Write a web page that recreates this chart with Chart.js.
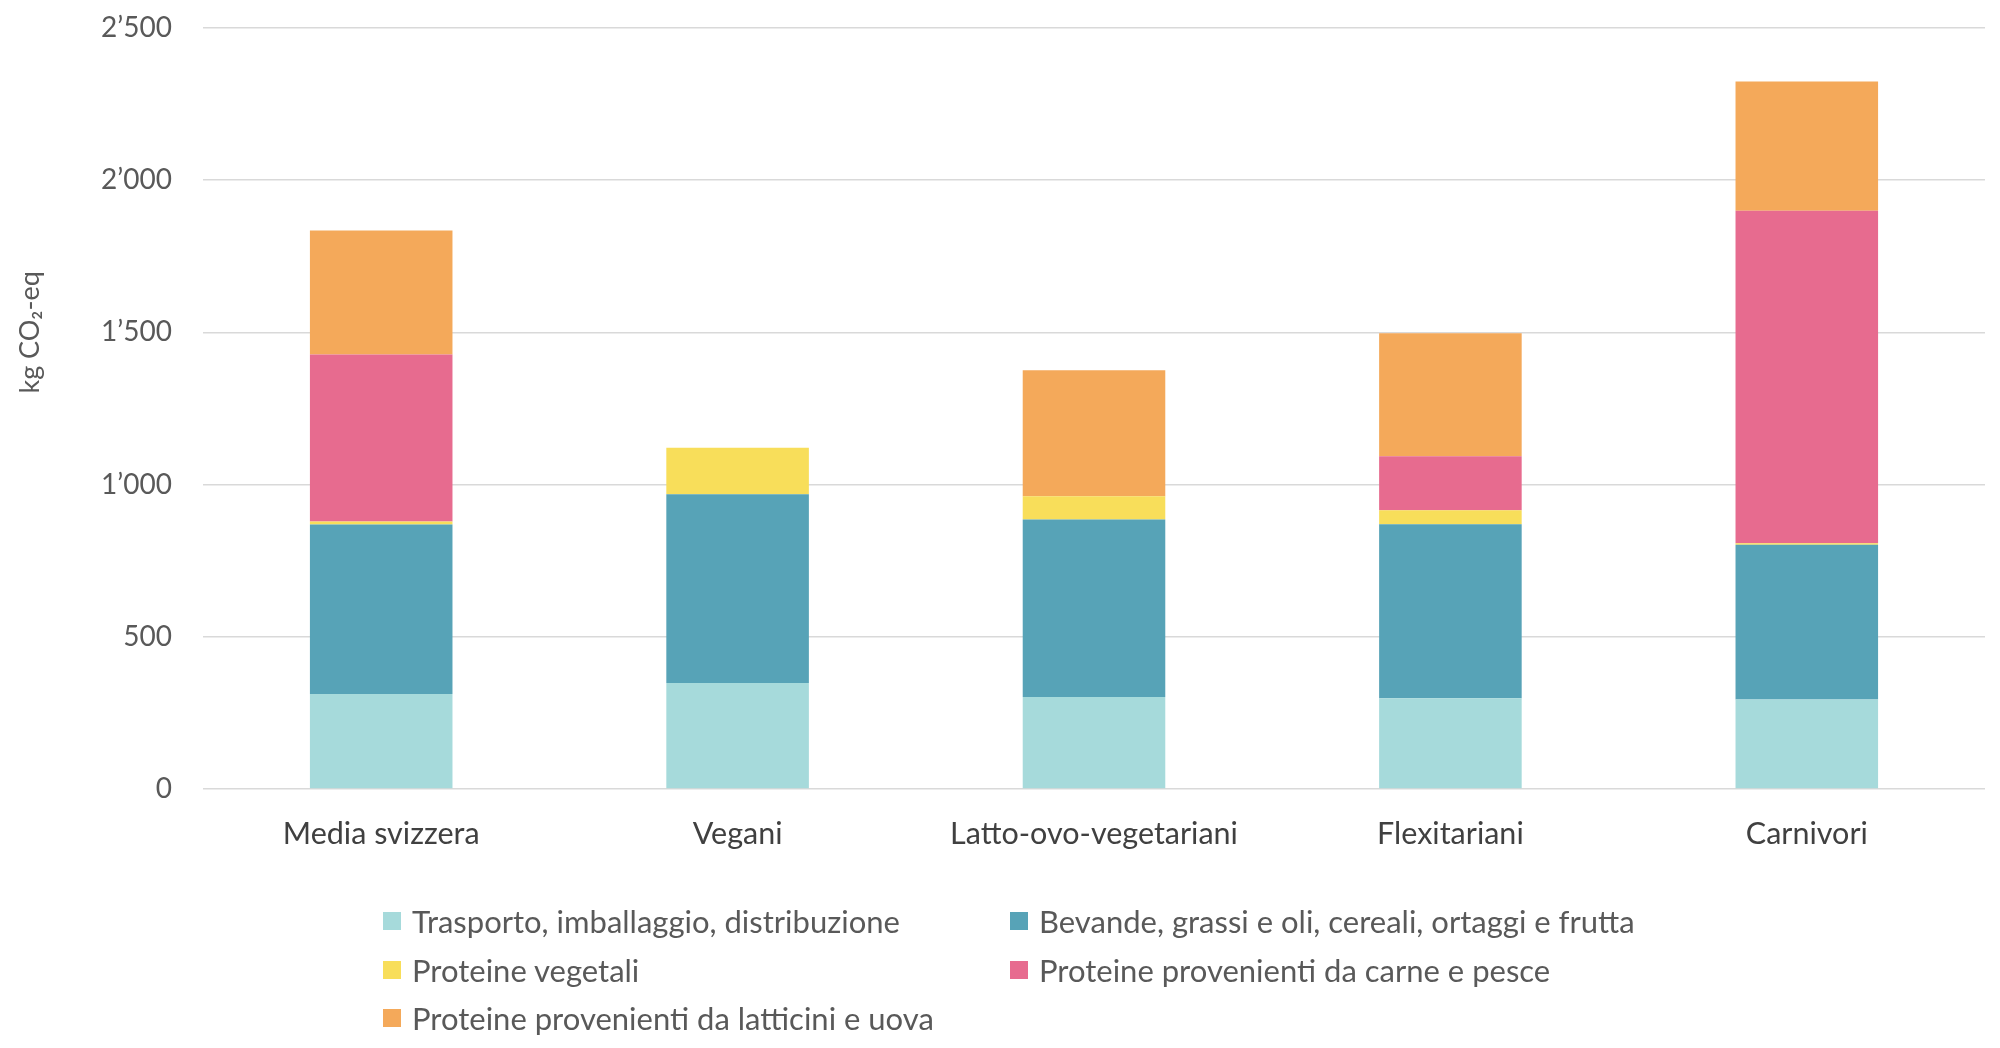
<!DOCTYPE html>
<html lang="it">
<head>
<meta charset="utf-8">
<title>Emissioni per tipo di dieta</title>
<script src="https://cdn.jsdelivr.net/npm/chart.js@4/dist/chart.umd.min.js"></script>
<style>
  html, body { margin: 0; padding: 0; background: #fff; }
  #wrap { position: relative; width: 2000px; height: 1048px; }
  #legend {
    position: absolute; left: 383px; top: 897px;
    display: grid; grid-template-columns: 627px auto; row-gap: 0;
    font-family: Lato, "Noto Sans", sans-serif; font-size: 31px; color: #595959;
  }
  .item { display: flex; align-items: center; height: 48.5px; white-space: nowrap; }
  .box { width: 18px; height: 18px; margin-right: 11px; flex: none; }
</style>
</head>
<body>
<div id="wrap">
  <canvas id="chart" width="2000" height="1048"></canvas>
  <div id="legend"></div>
</div>
<script>
// categorie (asse x)
const categorie = ['Media svizzera', 'Vegani', 'Latto-ovo-vegetariani', 'Flexitariani', 'Carnivori'];

// valori, kg CO2-eq
const trasporto = [312, 348, 302, 298, 294];
const bevande = [557, 620, 583, 572, 508];
const proteineVegetali = [10, 153, 77, 46, 5];
const carnePesce = [548, 0, 0, 177, 1093];
const latticiniUova = [408, 0, 414, 404, 424];

const nomiSerie = [
    'Trasporto, imballaggio, distribuzione',
    'Bevande, grassi e oli, cereali, ortaggi e frutta',
    'Proteine vegetali',
    'Proteine provenienti da carne e pesce',
    'Proteine provenienti da latticini e uova'
];
const colori = ['#a6dadb', '#57a3b7', '#f8de5a', '#e76b8f', '#f4a95a'];

const yTicks = [0, 500, 1000, 1500, 2000, 2500];

const FONT = 'Lato, "Noto Sans", sans-serif';

// separatore delle migliaia con apostrofo
function formatNumero(v) {
    return String(v).replace(/\B(?=(\d{3})+(?!\d))/g, '\u2019');
}

// titolo dell'asse y, un po' sopra il centro come nell'originale
const titoloY = {
    id: 'titoloY',
    afterDraw(chart) {
        const ctx = chart.ctx;
        const y = chart.scales.y.getPixelForValue(1500);
        ctx.save();
        ctx.translate(30, y);
        ctx.rotate(-Math.PI / 2);
        ctx.font = '27px ' + FONT;
        ctx.fillStyle = '#595959';
        ctx.textAlign = 'center';
        ctx.textBaseline = 'middle';
        ctx.fillText('kg CO\u2082-eq', 0, 0);
        ctx.restore();
    }
};

const serie = [trasporto, bevande, proteineVegetali, carnePesce, latticiniUova];

const chart = new Chart(document.getElementById('chart'), {
    type: 'bar',
    data: {
        labels: categorie,
        datasets: serie.map((d, i) => ({
            label: nomiSerie[i],
            data: d,
            backgroundColor: colori[i],
            borderWidth: 0,
            barPercentage: 0.4,
            categoryPercentage: 1
        }))
    },
    options: {
        responsive: false,
        animation: false,
        layout: { padding: { top: 28, bottom: 189, left: 0, right: 15 } },
        plugins: {
            legend: { display: false },
            tooltip: { enabled: false }
        },
        scales: {
            x: {
                stacked: true,
                grid: { display: false },
                border: { display: false },
                ticks: { color: '#404040', font: { family: FONT, size: 30.5 }, padding: 19 },
                afterFit: (s) => { s.height = 70; }
            },
            y: {
                stacked: true,
                min: 0,
                max: 2500,
                afterBuildTicks: (s) => { s.ticks = yTicks.map(v => ({ value: v })); },
                grid: { color: '#d9d9d9', lineWidth: 1.5, drawTicks: false },
                border: { display: false },
                ticks: {
                    color: '#595959',
                    font: { family: FONT, size: 28 },
                    padding: 31,
                    callback: (v) => formatNumero(v)
                },
                afterFit: (s) => {
                    s.width = 203;
                    // il padding delle etichette non deve spostare l'area del grafico
                    s.paddingTop = 0;
                    s.paddingBottom = 0;
                }
            }
        }
    },
    plugins: [titoloY]
});

// legenda HTML su due colonne
const legenda = document.getElementById('legend');
chart.data.datasets.forEach(ds => {
    const el = document.createElement('div');
    el.className = 'item';
    el.innerHTML = '<span class="box" style="background:' + ds.backgroundColor + '"></span>' + ds.label;
    legenda.appendChild(el);
});
</script>
</body>
</html>
